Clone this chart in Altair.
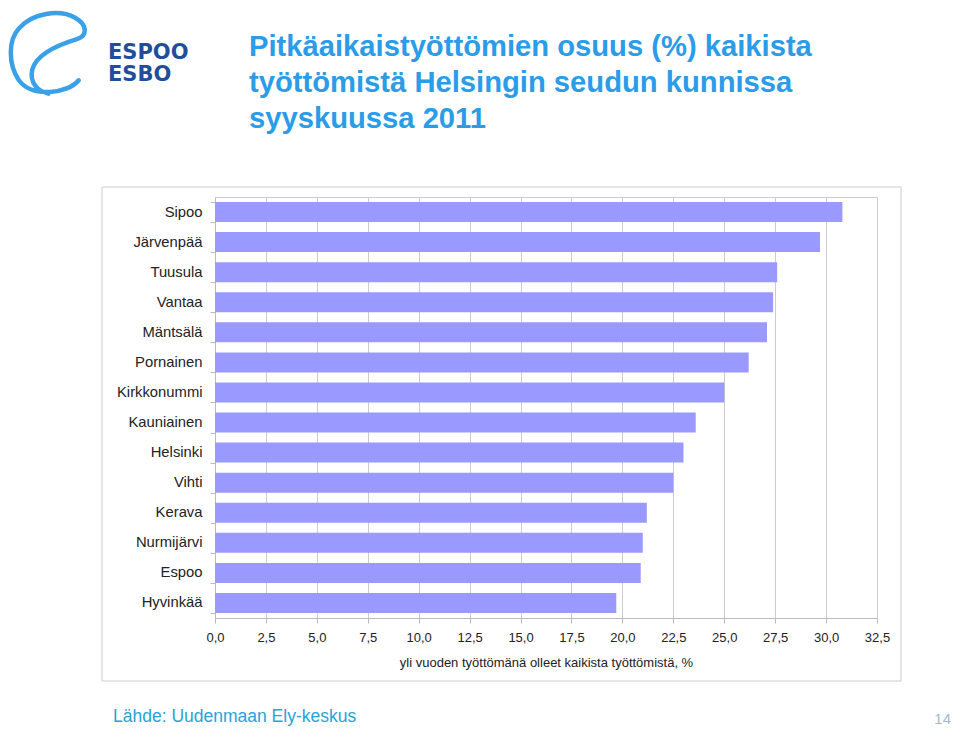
import altair as alt
import pandas as pd

# ---- data ----
municipalities = ["Sipoo", "Järvenpää", "Tuusula", "Vantaa", "Mäntsälä", "Pornainen",
                  "Kirkkonummi", "Kauniainen", "Helsinki", "Vihti", "Kerava",
                  "Nurmijärvi", "Espoo", "Hyvinkää"]
shares = [30.8, 29.7, 27.6, 27.4, 27.1, 26.2, 25.0, 23.6, 23.0, 22.5, 21.2, 21.0, 20.9, 19.7]
x_ticks = [0, 2.5, 5, 7.5, 10, 12.5, 15, 17.5, 20, 22.5, 25, 27.5, 30, 32.5]

title_lines = ["Pitkäaikaistyöttömien osuus (%) kaikista",
               "työttömistä Helsingin seudun kunnissa",
               "syyskuussa 2011"]
x_title = "yli vuoden työttömänä olleet kaikista työttömistä, %"
source_text = "Lähde: Uudenmaan Ely-keskus"
page_number = "14"
logo_top = "ESPOO"
logo_bottom = "ESBO"

df = pd.DataFrame({"municipality": municipalities, "share": shares})

FONT = "Liberation Sans"
GRID = "#cccccc"
one = alt.Data(values=[{}])

# outer frame around the chart
frame = alt.Chart(one).mark_rect(fillOpacity=0, stroke=GRID, strokeWidth=1).encode(
    x=alt.value(-113), x2=alt.value(686), y=alt.value(-10), y2=alt.value(484)
)

bars = alt.Chart(df).mark_bar(color="#9999ff").encode(
    x=alt.X("share:Q",
            scale=alt.Scale(domain=[0, 32.5], nice=False, zero=True),
            axis=alt.Axis(values=x_ticks,
                          labelExpr="replace(format(datum.value, '.1f'), '.', ',')",
                          title=x_title, grid=True, gridColor=GRID,
                          domainColor="#bbbbbb", tickColor="#bbbbbb", tickSize=5,
                          labelFont=FONT, labelFontSize=13, labelColor="#222222",
                          labelPadding=8, labelFlush=False,
                          titleFont=FONT, titleFontSize=13, titleFontWeight="normal",
                          titleColor="#222222", titlePadding=12)),
    y=alt.Y("municipality:N", sort=municipalities,
            scale=alt.Scale(paddingInner=0.335, paddingOuter=0.1675),
            axis=alt.Axis(title=None, grid=False, tickBand="extent",
                          domainColor="#bbbbbb", tickColor="#bbbbbb", tickSize=5,
                          labelFont=FONT, labelFontSize=14.8, labelColor="#222222",
                          labelPadding=8)),
)

title = alt.Chart(one).mark_text(
    font=FONT, fontSize=29.2, fontWeight="bold", color="#2b9ce8",
    align="left", baseline="alphabetic", lineHeight=36
).encode(x=alt.value(34), y=alt.value(-141), text=alt.value(title_lines))

logo_a = alt.Chart(one).mark_text(
    font="DejaVu Sans", fontSize=21, fontWeight="bold", color="#1f4e9e",
    align="left", baseline="alphabetic"
).encode(x=alt.value(-107), y=alt.value(-138), text=alt.value(logo_top))

logo_b = alt.Chart(one).mark_text(
    font="DejaVu Sans", fontSize=21, fontWeight="bold", color="#1f4e9e",
    align="left", baseline="alphabetic"
).encode(x=alt.value(-107), y=alt.value(-116), text=alt.value(logo_bottom))

swirl_path = ("M0.755,0.649 C0.5,0.968 -0.351,1.074 -0.670,0.649 "
              "C-0.926,0.266 -0.926,-0.309 -0.670,-0.585 "
              "C-0.351,-0.947 0.287,-1.053 0.670,-0.840 "
              "C0.968,-0.670 0.968,-0.415 0.713,-0.330 "
              "C0.287,-0.202 -0.245,0.011 -0.351,0.394 "
              "C-0.415,0.691 -0.245,0.904 0.032,0.968")
swirl = alt.Chart(one).mark_point(
    shape=swirl_path, size=7056, filled=False, stroke="#3aa0e8",
    strokeWidth=4.5, opacity=1, strokeCap="round"
).encode(x=alt.value(-168), y=alt.value(-144))

source = alt.Chart(one).mark_text(
    font=FONT, fontSize=17.5, color="#27a4d6", align="left", baseline="alphabetic"
).encode(x=alt.value(-102), y=alt.value(525), text=alt.value(source_text))

page = alt.Chart(one).mark_text(
    font=FONT, fontSize=15, color="#a8b6c8", align="right", baseline="alphabetic"
).encode(x=alt.value(736), y=alt.value(527), text=alt.value(page_number))

chart = alt.layer(frame, bars, title, logo_a, logo_b, swirl, source, page).properties(
    width=662, height=421,
    autosize=alt.AutoSizeParams(type="none"),
    padding={"left": 207, "top": 189, "right": 75, "bottom": 112},
    background="white",
).configure_view(stroke=GRID, strokeWidth=1)

chart.save("out.html", embed_options={"renderer": "svg", "actions": False})
